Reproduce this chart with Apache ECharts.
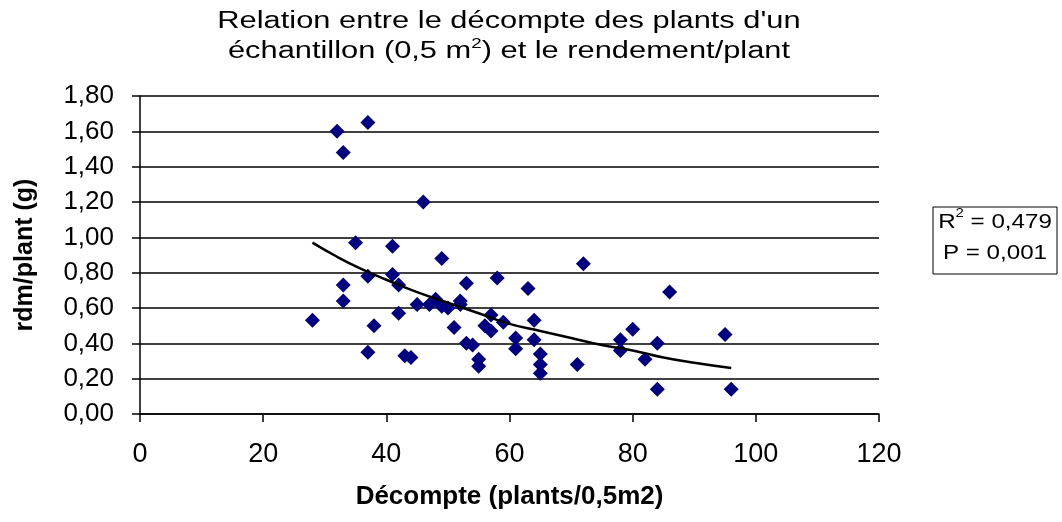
<!DOCTYPE html>
<html>
<head>
<meta charset="utf-8">
<script src="https://cdn.jsdelivr.net/npm/echarts@6/dist/echarts.min.js"></script>
<style>
  html, body { margin: 0; padding: 0; background: #fff; }
  #chart { width: 1062px; height: 522px; }
</style>
</head>
<body>
<div id="chart"></div>
<script>
// decompte (plants/0,5m2) et rdm/plant (g)
let decompte = [32, 37, 33, 35, 41, 46, 49, 72, 37, 33, 33, 28, 38, 37,
  41, 42, 53, 58, 63, 45, 47, 48, 49, 50, 52, 52, 42, 51, 57, 56, 57, 59,
  64, 61, 64, 61, 53, 54, 43, 44, 55, 55, 65, 65, 65, 71, 78, 78, 80, 86,
  84, 82, 84, 95, 96];
let rdmPlant = [1.60, 1.65, 1.48, 0.97, 0.95, 1.20, 0.88, 0.85, 0.78, 0.73, 0.64, 0.53, 0.50, 0.35,
  0.79, 0.73, 0.74, 0.77, 0.71, 0.62, 0.62, 0.65, 0.61, 0.60, 0.64, 0.62, 0.57, 0.49, 0.56, 0.50, 0.47, 0.52,
  0.53, 0.43, 0.42, 0.37, 0.40, 0.39, 0.33, 0.32, 0.31, 0.27, 0.34, 0.28, 0.23, 0.28, 0.42, 0.36, 0.48, 0.69,
  0.40, 0.31, 0.14, 0.45, 0.14];
// courbe de tendance
let trendX = [28, 32, 36, 40, 45, 50, 55, 60, 65, 70, 75, 80, 85, 90, 96];
let trendY = [0.97, 0.89, 0.82, 0.76, 0.69, 0.63, 0.57, 0.51, 0.47, 0.43, 0.39, 0.36, 0.32, 0.29, 0.26];
let yTicks = ["0,00", "0,20", "0,40", "0,60", "0,80", "1,00", "1,20", "1,40", "1,60", "1,80"];

let font = "Liberation Sans, Arial, sans-serif";
let points = decompte.map((x, i) => [x, rdmPlant[i]]);
let trend = trendX.map((x, i) => [x, trendY[i]]);

let chart = echarts.init(document.getElementById("chart"));
let option = {
  backgroundColor: "#ffffff",
  animation: false,
  grid: { left: 140, right: 183, top: 96, bottom: 108 },
  xAxis: {
    type: "value",
    min: 0,
    max: 120,
    interval: 20,
    name: "Décompte (plants/0,5m2)",
    nameLocation: "middle",
    nameGap: 70,
    nameTextStyle: { fontFamily: font, fontSize: 26, fontWeight: "bold", color: "#000" },
    axisLine: { show: true, onZero: false, lineStyle: { color: "#000", width: 1.5 } },
    axisTick: { show: true, length: 8, lineStyle: { color: "#000", width: 1.5 } },
    axisLabel: { fontFamily: font, fontSize: 27, color: "#000", margin: 27 },
    splitLine: { show: false }
  },
  yAxis: {
    type: "value",
    min: 0,
    max: 1.8,
    interval: 0.2,
    name: "rdm/plant (g)",
    nameLocation: "middle",
    nameGap: 102,
    nameTextStyle: { fontFamily: font, fontSize: 25, fontWeight: "bold", color: "#000" },
    axisLine: { show: true, lineStyle: { color: "#000", width: 1.5 } },
    axisTick: { show: true, length: 8, lineStyle: { color: "#000", width: 1.5 } },
    axisLabel: {
      fontFamily: font,
      fontSize: 26,
      color: "#000",
      margin: 26,
      formatter: (v) => yTicks[Math.round(v / 0.2)]
    },
    splitLine: { show: true, lineStyle: { color: "#000", width: 1.5 } }
  },
  series: [
    {
      name: "rdm",
      type: "scatter",
      data: points,
      symbol: "diamond",
      symbolSize: 15,
      itemStyle: { color: "#000080", opacity: 1 },
      z: 3
    },
    {
      name: "tendance",
      type: "line",
      data: trend,
      smooth: true,
      symbol: "none",
      lineStyle: { color: "#000", width: 2.5 },
      z: 4
    }
  ],
  graphic: [
    // titre (texte un peu elargi comme dans l'original)
    {
      type: "text",
      x: 509,
      y: 37,
      scaleX: 1.34,
      style: {
        text: "Relation entre le décompte des plants d'un\néchantillon (0,5 m{sup|2}) et le rendement/plant",
        fontFamily: font,
        fontSize: 23,
        lineHeight: 30,
        fill: "#000",
        align: "center",
        verticalAlign: "middle",
        rich: {
          sup: { fontFamily: font, fontSize: 14, verticalAlign: "top", lineHeight: 30, padding: [0, 0, 8, 0], fill: "#000" }
        }
      }
    },
    {
      type: "rect",
      shape: { x: 933, y: 207, width: 124, height: 67 },
      style: { fill: "#fff", stroke: "#000", lineWidth: 1 }
    },
    {
      type: "text",
      x: 995,
      y: 238,
      scaleX: 1.15,
      style: {
        text: "R{sup|2} = 0,479\nP = 0,001",
        fontFamily: font,
        fontSize: 21,
        lineHeight: 31,
        fill: "#000",
        align: "center",
        verticalAlign: "middle",
        rich: {
          sup: { fontFamily: font, fontSize: 13, verticalAlign: "top", lineHeight: 31, padding: [0, 0, 8, 0], fill: "#000" }
        }
      }
    }
  ]
};
chart.setOption(option);
</script>
</body>
</html>
